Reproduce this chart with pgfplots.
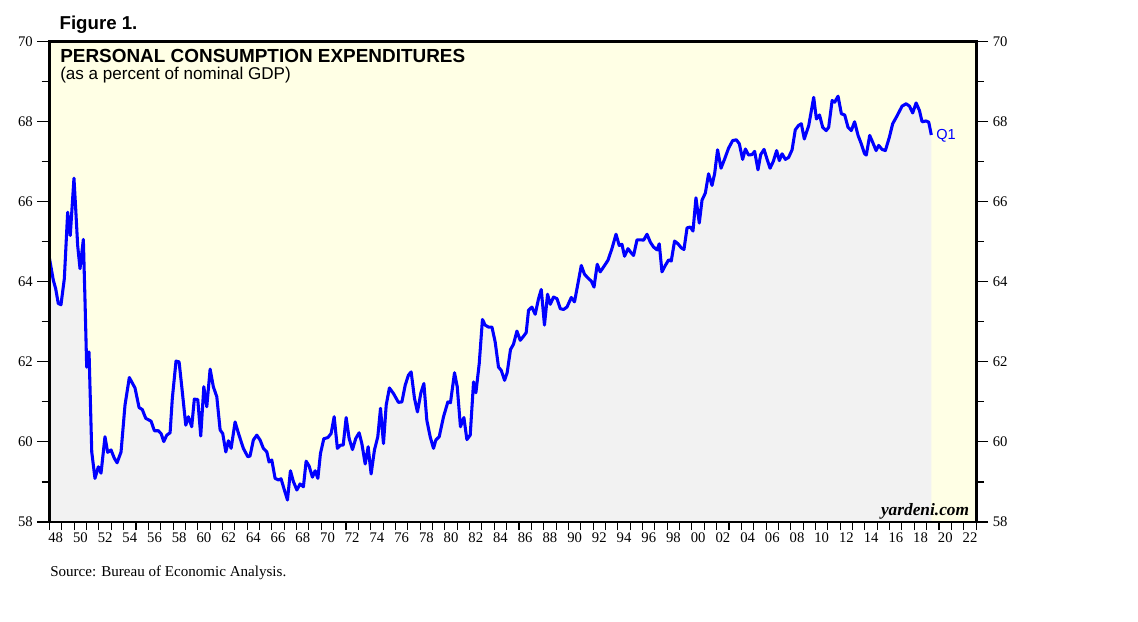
\documentclass[border=0pt]{standalone}
\usepackage{pgfplots}
\pgfplotsset{compat=1.18}
\usepackage{pgfplotstable}
\usepackage{fontspec}
\setmainfont{Liberation Serif}
\newfontfamily\arial{Liberation Sans}
\definecolor{bgyellow}{HTML}{FFFFE5}
\definecolor{fillgray}{HTML}{F2F2F2}
\definecolor{pceblue}{HTML}{0000FF}

\pgfplotstableread{
x y
1948.00 64.58
1948.31 64.04
1948.50 63.83
1948.71 63.46
1948.93 63.43
1949.20 64.08
1949.47 65.74
1949.68 65.16
1949.98 66.59
1950.12 65.83
1950.28 64.91
1950.47 64.33
1950.74 65.06
1950.87 63.58
1951.01 61.87
1951.20 62.25
1951.42 59.75
1951.68 59.09
1951.95 59.38
1952.17 59.22
1952.49 60.13
1952.71 59.74
1952.98 59.80
1953.25 59.59
1953.47 59.48
1953.79 59.75
1954.11 60.92
1954.46 61.61
1954.92 61.35
1955.25 60.86
1955.51 60.81
1955.79 60.59
1956.22 60.52
1956.49 60.28
1956.81 60.28
1957.03 60.21
1957.25 60.01
1957.49 60.17
1957.76 60.23
1957.94 61.09
1958.24 62.02
1958.49 62.00
1958.75 61.25
1959.03 60.42
1959.24 60.63
1959.51 60.38
1959.72 61.07
1960.00 61.06
1960.24 60.15
1960.49 61.38
1960.73 60.88
1961.00 61.82
1961.26 61.38
1961.54 61.13
1961.81 60.30
1962.02 60.21
1962.27 59.75
1962.48 60.03
1962.70 59.84
1963.02 60.50
1963.34 60.17
1963.69 59.84
1964.05 59.63
1964.23 59.65
1964.50 60.05
1964.78 60.17
1965.04 60.05
1965.31 59.84
1965.59 59.75
1965.77 59.50
1965.99 59.55
1966.26 59.09
1966.53 59.05
1966.74 59.08
1967.01 58.80
1967.26 58.55
1967.50 59.28
1967.74 59.01
1968.02 58.80
1968.28 58.95
1968.55 58.88
1968.77 59.52
1969.01 59.40
1969.28 59.12
1969.50 59.28
1969.72 59.09
1969.93 59.71
1970.20 60.08
1970.53 60.11
1970.79 60.21
1971.04 60.63
1971.30 59.84
1971.55 59.92
1971.77 59.92
1972.01 60.61
1972.25 60.09
1972.52 59.81
1972.79 60.09
1973.06 60.23
1973.28 59.96
1973.55 59.45
1973.79 59.88
1974.03 59.20
1974.30 59.80
1974.57 60.13
1974.79 60.84
1975.03 59.96
1975.25 60.92
1975.51 61.35
1975.84 61.21
1976.24 60.99
1976.52 61.00
1976.79 61.42
1977.05 61.67
1977.27 61.75
1977.54 61.09
1977.78 60.75
1978.06 61.23
1978.30 61.46
1978.54 60.54
1978.81 60.13
1979.08 59.84
1979.27 60.05
1979.54 60.13
1979.89 60.63
1980.24 61.00
1980.45 60.98
1980.78 61.73
1981.00 61.38
1981.26 60.38
1981.54 60.61
1981.78 60.06
1982.05 60.17
1982.32 61.50
1982.51 61.23
1982.78 61.96
1983.04 63.06
1983.26 62.92
1983.53 62.87
1983.81 62.87
1984.07 62.50
1984.34 61.87
1984.56 61.79
1984.83 61.54
1985.04 61.73
1985.31 62.31
1985.55 62.44
1985.83 62.77
1986.10 62.54
1986.36 62.64
1986.58 62.73
1986.77 63.29
1987.04 63.37
1987.31 63.19
1987.58 63.58
1987.80 63.81
1988.06 62.92
1988.31 63.69
1988.53 63.44
1988.79 63.62
1989.07 63.58
1989.34 63.33
1989.60 63.31
1989.88 63.37
1990.23 63.61
1990.49 63.50
1990.77 63.96
1991.04 64.41
1991.30 64.19
1991.63 64.08
1991.85 64.02
1992.07 63.87
1992.33 64.44
1992.57 64.25
1992.84 64.37
1993.20 64.54
1993.52 64.83
1993.85 65.19
1994.11 64.91
1994.33 64.94
1994.54 64.64
1994.82 64.83
1995.09 64.72
1995.27 64.66
1995.55 65.05
1995.90 65.05
1996.08 65.04
1996.36 65.19
1996.63 64.99
1996.89 64.87
1997.17 64.80
1997.35 64.95
1997.57 64.25
1997.84 64.41
1998.11 64.55
1998.32 64.52
1998.59 65.02
1998.87 64.95
1999.13 64.85
1999.35 64.81
1999.60 65.35
1999.86 65.37
2000.08 65.27
2000.32 66.10
2000.59 65.47
2000.81 66.04
2001.08 66.22
2001.34 66.70
2001.62 66.41
2001.83 66.70
2002.07 67.30
2002.35 66.84
2002.64 67.07
2002.96 67.34
2003.29 67.53
2003.59 67.55
2003.83 67.45
2004.10 67.06
2004.32 67.32
2004.58 67.17
2004.86 67.18
2005.07 67.26
2005.34 66.80
2005.56 67.18
2005.83 67.31
2006.07 67.07
2006.32 66.84
2006.58 67.01
2006.85 67.28
2007.07 67.03
2007.29 67.20
2007.56 67.06
2007.82 67.11
2008.10 67.30
2008.36 67.80
2008.63 67.91
2008.85 67.95
2009.09 67.57
2009.45 67.91
2009.85 68.61
2010.07 68.07
2010.32 68.17
2010.58 67.86
2010.86 67.78
2011.06 67.86
2011.34 68.53
2011.55 68.49
2011.82 68.64
2012.09 68.20
2012.36 68.17
2012.63 67.86
2012.89 67.78
2013.16 68.00
2013.44 67.66
2013.70 67.45
2013.97 67.20
2014.11 67.17
2014.38 67.66
2014.62 67.49
2014.90 67.28
2015.11 67.41
2015.38 67.31
2015.65 67.28
2015.97 67.61
2016.24 67.95
2016.60 68.15
2017.00 68.39
2017.33 68.45
2017.60 68.39
2017.86 68.22
2018.14 68.47
2018.41 68.28
2018.62 68.00
2018.95 68.02
2019.16 67.99
2019.37 67.67
}\pcedata

\begin{document}
\begin{tikzpicture}
\useasboundingbox (0,0) rectangle (853.5pt,465.75pt);
\pgfplotsset{common/.style={
  scale only axis, width=695pt, height=360.2pt,
  at={(37.125pt,74.25pt)}, anchor=south west,
  xmin=1948, xmax=2023, ymin=58, ymax=70,
  tick align=outside, major tick length=9pt, minor tick length=6pt,
  tick style={black, line width=0.8pt},
  axis line style={line width=2.2pt, black},
  ytick={58,60,...,70}, minor ytick={59,61,...,69},
  /pgf/number format/assume math mode=true,
  tick label style={font=\fontsize{11}{12}\selectfont},
}}
\begin{axis}[common,
  axis on top,
  axis background/.style={fill=bgyellow},
  xtick={1948.5,1950.5,...,2022.5},
  xticklabels={48,50,52,54,56,58,60,62,64,66,68,70,72,74,76,78,80,82,84,86,88,90,92,94,96,98,00,02,04,06,08,10,12,14,16,18,20,22},
  minor xtick={1948,1949,...,2023},
  major x tick style={draw=none},
  xtick pos=bottom, ytick pos=left,
  xticklabel style={yshift=4.5pt},
]
\addplot[fill=fillgray, draw=none] table[x=x,y=y]{\pcedata} \closedcycle;
\addplot[pceblue, line width=2.3pt, line join=round] table[x=x,y=y]{\pcedata};
\node[anchor=base west, inner sep=0pt, font=\arial\bfseries\fontsize{14.2}{16}\selectfont] at (axis cs:1948.85,69.48) {PERSONAL CONSUMPTION EXPENDITURES};
\node[anchor=base west, inner sep=0pt, font=\arial\fontsize{12.8}{15}\selectfont] at (axis cs:1948.85,69.05) {(as a percent of nominal GDP)};
\node[anchor=base west, inner sep=0pt, text=pceblue, font=\arial\fontsize{10.9}{12}\selectfont] at (axis cs:2019.76,67.56) {Q1};
\node[anchor=base east, inner sep=0pt, font=\bfseries\itshape\fontsize{13}{15}\selectfont] at (axis cs:2022.45,58.16) {yardeni.com};
\end{axis}
\begin{axis}[common, hide x axis, ytick pos=right, yticklabel pos=right]
\end{axis}
\node[anchor=base west, inner sep=0pt, font=\arial\bfseries\fontsize{14}{16}\selectfont] at (44.5pt,443.8pt) {Figure 1.};
\node[anchor=base west, inner sep=0pt, font=\fontsize{11.3}{13}\selectfont] at (37.5pt,33.75pt) {Source: Bureau of Economic Analysis.};
\end{tikzpicture}
\end{document}
